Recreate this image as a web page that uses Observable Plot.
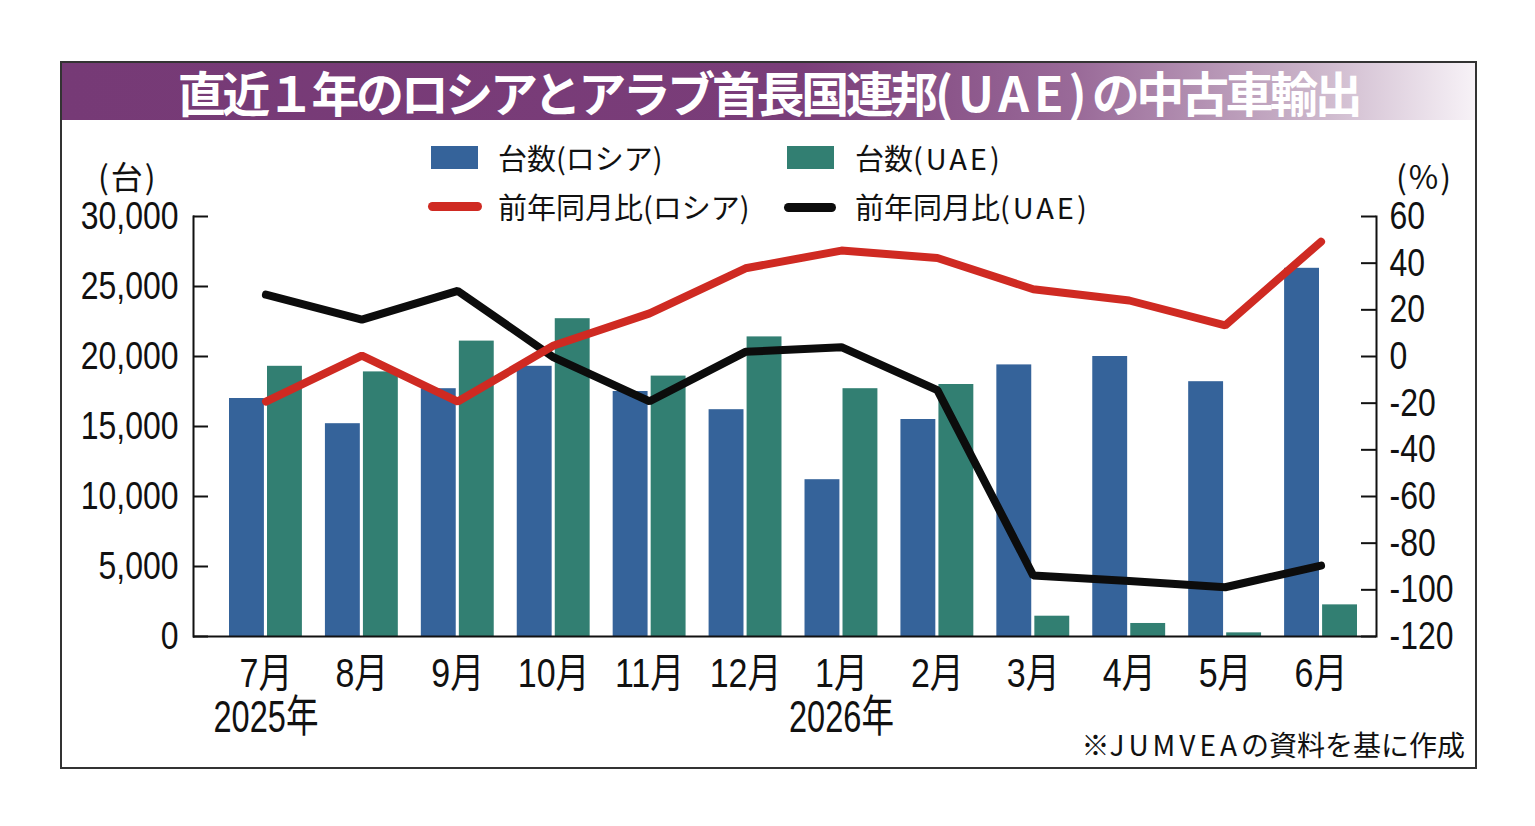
<!DOCTYPE html>
<html>
<head>
<meta charset="utf-8">
<script src="https://cdn.jsdelivr.net/npm/d3@7"></script>
<script src="https://cdn.jsdelivr.net/npm/@observablehq/plot@0.6"></script>
<style>
  body { margin: 0; background: #fff; }
  #wrap { position: relative; width: 1535px; height: 826px; overflow: hidden;
          font-family: "Noto Sans CJK JP", sans-serif; color: #111; }
  #box { position: absolute; left: 60px; top: 61px; width: 1413px; height: 704px; border: 2px solid #333; }
  #banner { position: absolute; left: 62px; top: 63px; width: 1413px; height: 57px;
            background: linear-gradient(to right, #763a76 0%, #7a3d79 52%, #9a6b99 72%, #c9b2c8 88%, #f7f2f7 100%); }
  #title { position: absolute; left: 62px; top: 63px; width: 1413px; height: 57px; line-height: 57px;
           text-align: center; color: #fff; font-weight: 700; font-size: 48px; letter-spacing: -3.4px; white-space: nowrap; }
  .lg { position: absolute; font-size: 29px; line-height: 29px; white-space: nowrap; }
  .sw { position: absolute; }
  .unit { position: absolute; font-size: 32px; line-height: 32px; white-space: nowrap; letter-spacing: 2px; }
  #plot { position: absolute; left: 0; top: 0; }
  #note { position: absolute; right: 70px; top: 730px; font-size: 28px; line-height: 28px; white-space: nowrap; }
</style>
</head>
<body>
<div id="wrap">
  <div id="box"></div>
  <div id="banner"></div>
  <div id="plot"></div>
  <div id="title">直近１年のロシアとアラブ首長国連邦<span style="letter-spacing:5px">(UAE)</span>の中古車輸出</div>
  <div class="sw" style="left:431px;top:146px;width:47px;height:23px;background:#35639a"></div>
  <div class="lg" style="left:498px;top:143px">台数(ロシア)</div>
  <div class="sw" style="left:787px;top:146px;width:47px;height:23px;background:#327f72"></div>
  <div class="lg" style="left:855px;top:143px">台数<span style="letter-spacing:3px">(UAE)</span></div>
  <div class="sw" style="left:428px;top:202px;width:54px;height:9px;border-radius:5px;background:#cf2a22"></div>
  <div class="lg" style="left:498px;top:192px">前年同月比(ロシア)</div>
  <div class="sw" style="left:784px;top:203px;width:52px;height:9px;border-radius:5px;background:#0c0c0c"></div>
  <div class="lg" style="left:855px;top:192px">前年同月比<span style="letter-spacing:3px">(UAE)</span></div>
  <div class="unit" style="left:98px;top:159px">(台)</div>
  <div class="unit" style="left:1396px;top:159px">(%)</div>
  <div id="note">※<span style="letter-spacing:4px">JUMVEA</span>の資料を基に作成</div>
</div>
<script>
// ---- data ----
const months = ["7月", "8月", "9月", "10月", "11月", "12月", "1月", "2月", "3月", "4月", "5月", "6月"];
const ruCount = [17000, 15200, 17700, 19300, 17500, 16200, 11200, 15500, 19400, 20000, 18200, 26300];
const uaeCount = [19300, 18900, 21100, 22700, 18600, 21400, 17700, 18000, 1450, 930, 260, 2260];
const ruYoY = [-19.3, 0.4, -19.3, 4.7, 18.5, 37.8, 45.4, 42.2, 28.8, 24.0, 13.3, 49.2];
const uaeYoY = [26.5, 15.8, 28.1, -0.4, -19.2, 2.0, 4.0, -14.4, -93.9, -96.2, -98.9, -89.6];
const leftTicks = [0, 5000, 10000, 15000, 20000, 25000, 30000];
const rightTicks = [-120, -100, -80, -60, -40, -20, 0, 20, 40, 60];
const yearLabels = [{month: "7月", label: "2025年"}, {month: "1月", label: "2026年"}];

const rows = months.map((m, i) => ({month: m, ru: ruCount[i], uae: uaeCount[i], ruY: ruYoY[i], uaeY: uaeYoY[i]}));
// secondary (percent) axis mapped onto the count scale
const pct = d3.scaleLinear([-120, 60], [0, 30000]);

const W = 1535, H = 826, mL = 193, mR = 159, mT = 216, mB = 190;
const innerW = W - mL - mR;
const numFont = '"Liberation Sans", "Noto Sans CJK JP", sans-serif';

const chart = Plot.plot({
  width: W, height: H,
  marginLeft: mL, marginRight: mR, marginTop: mT, marginBottom: mB,
  style: {fontFamily: numFont, fontSize: "38px", color: "#111", background: "transparent", overflow: "visible"},
  x: {type: "band", domain: months, range: [229, 1357], paddingInner: 0.24, paddingOuter: 0, round: false, axis: null},
  y: {domain: [0, 30000], axis: null},
  marks: [
    Plot.barY(rows, {x: "month", y: "ru", fill: "#35639a", insetRight: 38}),
    Plot.barY(rows, {x: "month", y: "uae", fill: "#327f72", insetLeft: 38}),
    Plot.line(rows, {x: "month", y: d => pct(d.uaeY), stroke: "#0c0c0c", strokeWidth: 8, strokeLinecap: "round", strokeLinejoin: "miter"}),
    Plot.line(rows, {x: "month", y: d => pct(d.ruY), stroke: "#cf2a22", strokeWidth: 8, strokeLinecap: "round", strokeLinejoin: "miter"}),
    Plot.frame({anchor: "left", stroke: "#111", strokeWidth: 2}),
    Plot.frame({anchor: "right", stroke: "#111", strokeWidth: 2}),
    Plot.ruleY([0], {stroke: "#111", strokeWidth: 2}),
    Plot.ruleY(leftTicks, {insetRight: innerW - 15, stroke: "#111", strokeWidth: 2}),
    Plot.ruleY(rightTicks.map(pct), {insetLeft: innerW - 15, stroke: "#111", strokeWidth: 2}),
    Plot.axisY(leftTicks, {anchor: "left", label: null, tickSize: 0, tickPadding: 15, tickFormat: d3.format(","), fontSize: 39, fill: "#111"}),
    Plot.axisY(rightTicks.map(pct), {anchor: "right", label: null, tickSize: 0, tickPadding: 13, tickFormat: d => String(Math.round(pct.invert(d))), fontSize: 39, fill: "#111", textAnchor: "start"}),
    Plot.axisX(months, {anchor: "bottom", label: null, tickSize: 0, tickPadding: 22, fontSize: 40, fill: "#111"}),
    Plot.text(yearLabels, {x: "month", y: 0, text: "label", dy: 81, fontSize: 44, fill: "#111"})
  ]
});

// condensed look of the original's number typeface
function squeeze(sel, s) {
  chart.querySelectorAll(sel).forEach(t => {
    t.setAttribute("transform", (t.getAttribute("transform") || "") + ` scale(${s},1)`);
  });
}
squeeze('g[aria-label="y-axis tick label"] text', 0.82);
squeeze('g[aria-label="x-axis tick label"] text', 0.85);
squeeze('g[aria-label="text"] text', 0.74);

document.getElementById("plot").appendChild(chart);
</script>
</body>
</html>
